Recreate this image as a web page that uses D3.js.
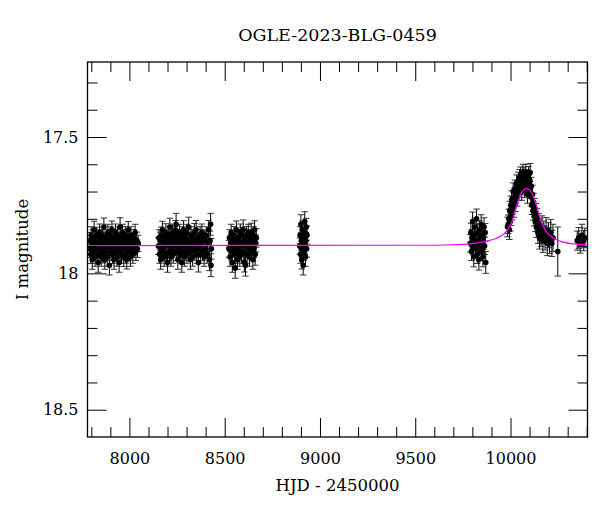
<!DOCTYPE html>
<html>
<head>
<meta charset="utf-8">
<script src="https://cdn.jsdelivr.net/npm/d3@7"></script>
<style>
  html, body { margin: 0; padding: 0; background: #fff; }
  svg { display: block; }
  text { font-family: "DejaVu Serif", "Liberation Serif", serif; fill: #000; }
</style>
</head>
<body>
<script>
// ---------- data ----------
const title = "OGLE-2023-BLG-0459";
const xLabel = "HJD - 2450000";
const yLabel = "I magnitude";

const xMajorTicks = [8000, 8500, 9000, 9500, 10000];
const xMinorTicks = [7800, 7900, 8100, 8200, 8300, 8400, 8600, 8700, 8800, 8900, 9100, 9200, 9300, 9400, 9600, 9700, 9800, 9900, 10100, 10200, 10300, 10400];
const yMajorTicks = [17.5, 18, 18.5];
const yMinorTicks = [17.3, 17.4, 17.6, 17.7, 17.8, 17.9, 18.1, 18.2, 18.3, 18.4];

// [HJD-2450000, I mag, error]
const season1 = [
[7791,17.91,.032],[7794,17.88,.030],[7797,17.93,.034],[7799,17.86,.031],[7802,17.90,.030],[7805,17.95,.035],
[7807,17.87,.029],[7810,17.92,.033],[7812,17.89,.030],[7815,17.84,.031],[7818,17.91,.032],[7820,17.94,.034],
[7823,17.88,.030],[7826,17.90,.031],[7828,17.86,.029],[7831,17.93,.033],[7834,17.89,.030],[7836,17.96,.036],
[7839,17.87,.030],[7842,17.91,.032],[7844,17.85,.031],[7847,17.92,.033],[7850,17.88,.030],[7852,17.94,.034],
[7855,17.90,.031],[7858,17.86,.030],[7860,17.93,.032],[7863,17.89,.030],[7866,17.83,.033],[7868,17.91,.031],
[7871,17.95,.035],[7874,17.88,.030],[7876,17.92,.032],[7879,17.87,.030],[7882,17.90,.031],[7884,17.94,.034],
[7887,17.85,.030],[7890,17.91,.032],[7892,17.88,.031],[7895,17.97,.036],[7898,17.89,.030],[7900,17.86,.031],
[7903,17.92,.033],[7906,17.90,.030],[7908,17.84,.032],[7911,17.93,.034],[7914,17.88,.030],[7916,17.91,.031],
[7919,17.95,.035],[7922,17.87,.030],[7924,17.90,.032],[7927,17.85,.031],[7930,17.92,.033],[7932,17.89,.030],
[7935,17.94,.034],[7938,17.86,.030],[7940,17.91,.032],[7943,17.88,.031],[7946,17.96,.036],[7948,17.90,.030],
[7951,17.83,.034],[7954,17.92,.032],[7956,17.87,.030],[7959,17.93,.033],[7962,17.89,.031],[7964,17.85,.030],
[7967,17.91,.032],[7970,17.94,.035],[7972,17.88,.030],[7975,17.90,.031],[7978,17.86,.032],[7980,17.93,.033],
[7983,17.89,.030],[7986,17.95,.034],[7988,17.87,.031],[7991,17.91,.032],[7994,17.84,.030],[7996,17.92,.033],
[7999,17.88,.031],[8002,17.90,.030],[8005,17.94,.034],[8008,17.86,.031],[8011,17.91,.032],[8014,17.89,.030],
[8018,17.93,.033],[8022,17.87,.031],[8026,17.90,.032],[8030,17.85,.030],[8034,17.92,.033],[8038,17.88,.031],
[8042,17.91,.032],[8046,17.89,.030]
];
const season2 = [
[8152,17.90,.031],[8155,17.87,.030],[8158,17.93,.033],[8161,17.88,.031],[8164,17.95,.035],[8167,17.86,.030],
[8170,17.91,.032],[8173,17.84,.031],[8176,17.92,.033],[8179,17.89,.030],[8182,17.94,.034],[8185,17.87,.030],
[8188,17.90,.031],[8191,17.85,.032],[8194,17.93,.033],[8197,17.88,.030],[8200,17.96,.036],[8203,17.89,.031],
[8206,17.86,.030],[8209,17.92,.033],[8212,17.83,.032],[8215,17.90,.031],[8218,17.94,.034],[8221,17.87,.030],
[8224,17.91,.032],[8227,17.85,.031],[8230,17.93,.033],[8233,17.88,.030],[8236,17.90,.031],[8239,17.86,.032],
[8242,17.84,.034],[8245,17.82,.040],[8248,17.92,.033],[8251,17.89,.030],[8254,17.95,.035],[8257,17.87,.031],
[8260,17.91,.032],[8263,17.85,.030],[8266,17.93,.033],[8269,17.88,.031],[8272,17.90,.030],[8275,17.96,.036],
[8278,17.86,.031],[8281,17.92,.032],[8284,17.84,.033],[8287,17.89,.030],[8290,17.94,.034],[8293,17.87,.031],
[8296,17.91,.032],[8299,17.85,.030],[8302,17.93,.033],[8305,17.88,.031],[8308,17.90,.032],[8311,17.83,.036],
[8314,17.92,.033],[8317,17.89,.030],[8320,17.95,.035],[8323,17.86,.031],[8326,17.91,.032],[8329,17.87,.030],
[8332,17.94,.034],[8335,17.88,.031],[8338,17.90,.030],[8341,17.85,.033],[8344,17.92,.032],[8347,17.89,.030],
[8350,17.84,.034],[8353,17.93,.033],[8356,17.87,.031],[8359,17.91,.032],[8362,17.96,.035],[8365,17.88,.030],
[8368,17.90,.031],[8371,17.86,.032],[8374,17.93,.033],[8377,17.89,.030],[8380,17.85,.031],[8384,17.92,.033],
[8388,17.88,.031],[8392,17.94,.034],[8396,17.87,.030],[8400,17.91,.032],[8404,17.86,.031],[8408,17.93,.033],
[8412,17.89,.030],[8416,17.84,.034],[8420,17.95,.040],[8423,17.88,.035],[8426,17.82,.040],[8428,17.97,.042],
[8430,17.91,.038]
];
const season3 = [
[8522,17.91,.031],[8525,17.87,.030],[8528,17.94,.034],[8531,17.89,.031],[8534,17.85,.030],[8537,17.92,.033],
[8540,17.96,.036],[8543,17.88,.031],[8546,17.90,.030],[8549,17.86,.032],[8552,17.93,.033],[8555,17.98,.038],
[8558,17.89,.031],[8561,17.84,.032],[8564,17.91,.030],[8567,17.95,.035],[8570,17.87,.031],[8573,17.92,.032],
[8576,17.88,.030],[8579,17.94,.034],[8582,17.85,.031],[8585,17.90,.032],[8588,17.93,.033],[8591,17.86,.030],
[8594,17.89,.031],[8597,17.84,.036],[8600,17.92,.032],[8603,17.96,.035],[8606,17.88,.031],[8609,17.97,.040],
[8612,17.90,.030],[8615,17.86,.032],[8618,17.93,.033],[8621,17.89,.031],[8624,17.85,.030],[8627,17.91,.032],
[8630,17.94,.034],[8633,17.87,.031],[8636,17.90,.030],[8639,17.85,.034],[8642,17.92,.032],[8645,17.88,.031],
[8648,17.95,.035],[8651,17.86,.031],[8654,17.91,.032],[8657,17.84,.033],[8660,17.93,.040],[8663,17.89,.031],
[8666,17.87,.034]
];
const season4 = [
[8894,17.90,.030],[8896,17.86,.031],[8898,17.93,.033],[8900,17.82,.035],[8902,17.88,.030],[8904,17.95,.034],
[8906,17.91,.031],[8908,17.84,.032],[8910,17.89,.030],[8912,17.97,.036],[8914,17.87,.031],[8916,17.92,.032],
[8918,17.85,.030],[8920,17.81,.036],[8922,17.90,.031],[8924,17.94,.034],[8926,17.88,.030],[8928,17.83,.032],
[8930,17.91,.031],[8932,17.86,.033]
];
const season5 = [
[9789,17.89,.032],[9792,17.85,.034],[9795,17.92,.033],[9798,17.87,.031],[9801,17.81,.035],[9804,17.90,.032],
[9807,17.94,.036],[9810,17.86,.031],[9813,17.83,.034],[9816,17.91,.032],[9819,17.88,.031],[9822,17.80,.036],
[9825,17.93,.034],[9828,17.85,.032],[9831,17.89,.031],[9834,17.95,.038],[9837,17.84,.033],[9840,17.90,.032],
[9843,17.87,.031],[9846,17.82,.035],[9849,17.92,.033],[9852,17.86,.031],[9855,17.94,.036],[9858,17.88,.032],
[9861,17.83,.034],[9864,17.90,.031],[9867,17.85,.033],[9870,17.96,.040]
];
const season6 = [
[9984,17.83,.036],[9988,17.82,.034],[9991,17.80,.035],[9994,17.84,.036],[9996,17.77,.034],[9999,17.81,.035],
[10001,17.75,.033],[10004,17.79,.034],[10006,17.73,.033],[10009,17.77,.034],[10012,17.75,.033],[10014,17.70,.032],
[10017,17.76,.034],[10020,17.72,.032],[10023,17.69,.032],[10026,17.74,.033],[10029,17.71,.032],[10032,17.67,.031],
[10035,17.72,.033],[10038,17.69,.031],[10041,17.66,.031],[10044,17.70,.032],[10047,17.65,.031],[10050,17.68,.032],
[10053,17.64,.030],[10056,17.67,.031],[10059,17.70,.032],[10062,17.65,.031],[10065,17.63,.030],[10068,17.67,.031],
[10071,17.64,.030],[10074,17.69,.032],[10077,17.66,.031],[10080,17.63,.030],[10083,17.68,.032],[10086,17.65,.031],
[10089,17.71,.033],[10092,17.67,.031],[10095,17.64,.032],[10098,17.69,.032],[10101,17.66,.031],[10103,17.63,.033],
[10106,17.72,.033],[10109,17.68,.032],[10112,17.75,.034],[10115,17.71,.033],[10118,17.77,.035],[10121,17.74,.034],
[10124,17.79,.036],[10127,17.76,.035],[10130,17.81,.037],[10133,17.78,.036],[10136,17.83,.038],[10140,17.80,.037],
[10144,17.85,.040],[10148,17.82,.039],[10152,17.87,.041],[10156,17.84,.040],[10160,17.86,.042],[10165,17.83,.041],
[10170,17.88,.043],[10175,17.85,.042],[10181,17.87,.044],[10187,17.84,.045],[10193,17.89,.045],[10199,17.86,.046],
[10205,17.88,.047],[10211,17.85,.048],[10217,17.89,.048],[10223,17.87,.050],[10248,17.92,.09]
];
const season7 = [
[10350,17.88,.035],[10358,17.87,.038],[10366,17.89,.036],[10375,17.86,.040],[10384,17.88,.037],[10390,17.87,.036]
];

// microlensing model curve
const modelCurve = [
[7780,17.898],[9500,17.897],[9700,17.895],[9800,17.891],[9870,17.883],[9930,17.870],[9980,17.845],
[10010,17.805],[10035,17.745],[10055,17.708],[10070,17.693],[10083,17.689],[10097,17.693],[10112,17.706],
[10130,17.738],[10155,17.795],[10180,17.838],[10215,17.866],[10260,17.882],[10320,17.891],[10404,17.895]
];

// ---------- drawing ----------
const W = 600, H = 512;
const L = 87.5, R = 587.5, T = 62, B = 437;

const svg = d3.select("body").append("svg").attr("width", W).attr("height", H);

const x = d3.scaleLinear().domain([7780, 10404]).range([L, R]);
const y = d3.scaleLinear().domain([17.225, 18.60]).range([T, B]);

const allPoints = [].concat(season1, season2, season3, season4, season5, season6, season7);

svg.append("clipPath").attr("id", "plotclip")
  .append("rect").attr("x", L).attr("y", T).attr("width", R - L).attr("height", B - T);

const plot = svg.append("g").attr("clip-path", "url(#plotclip)");

// error bars
const eb = plot.append("g").attr("stroke", "#000").attr("stroke-width", 1).attr("fill", "none");
const capW = 3.2;
allPoints.forEach(d => {
  const cx = x(d[0]), y1 = y(d[1] - d[2]), y2 = y(d[1] + d[2]);
  eb.append("line").attr("x1", cx).attr("x2", cx).attr("y1", y1).attr("y2", y2);
  eb.append("line").attr("x1", cx - capW).attr("x2", cx + capW).attr("y1", y1).attr("y2", y1).attr("stroke", "#333");
  eb.append("line").attr("x1", cx - capW).attr("x2", cx + capW).attr("y1", y2).attr("y2", y2).attr("stroke", "#333");
});

// points
plot.append("g").selectAll("circle").data(allPoints).join("circle")
  .attr("cx", d => x(d[0])).attr("cy", d => y(d[1])).attr("r", 2.8).attr("fill", "#000");

// model
plot.append("path").datum(modelCurve)
  .attr("fill", "none").attr("stroke", "#ff00ff").attr("stroke-width", 1.2)
  .attr("d", d3.line().x(d => x(d[0])).y(d => y(d[1])).curve(d3.curveMonotoneX));

// axes with inward ticks
function styleAxis(g) {
  g.select(".domain").remove();
  g.selectAll(".tick line").attr("stroke", "#000").attr("stroke-width", 1);
  g.selectAll("text").style("font-family", "'DejaVu Serif', serif").style("font-size", "16px").attr("fill", "#000");
}
const fmtX = d3.format("d");
const fmtY = d => (d === 18 ? "18" : d3.format(".1f")(d));

svg.append("g").attr("transform", `translate(0,${B})`)
  .call(d3.axisBottom(x).tickValues(xMajorTicks).tickSize(-19).tickSizeOuter(0).tickPadding(16).tickFormat(fmtX))
  .call(styleAxis);
svg.append("g").attr("transform", `translate(0,${B})`)
  .call(d3.axisBottom(x).tickValues(xMinorTicks).tickSize(-10).tickSizeOuter(0).tickFormat(""))
  .call(styleAxis);
svg.append("g").attr("transform", `translate(0,${T})`)
  .call(d3.axisTop(x).tickValues(xMajorTicks).tickSize(-19).tickSizeOuter(0).tickFormat(""))
  .call(styleAxis);
svg.append("g").attr("transform", `translate(0,${T})`)
  .call(d3.axisTop(x).tickValues(xMinorTicks).tickSize(-10).tickSizeOuter(0).tickFormat(""))
  .call(styleAxis);

svg.append("g").attr("transform", `translate(${L},0)`)
  .call(d3.axisLeft(y).tickValues(yMajorTicks).tickSize(-19).tickSizeOuter(0).tickPadding(9).tickFormat(fmtY))
  .call(styleAxis);
svg.append("g").attr("transform", `translate(${L},0)`)
  .call(d3.axisLeft(y).tickValues(yMinorTicks).tickSize(-10).tickSizeOuter(0).tickFormat(""))
  .call(styleAxis);
svg.append("g").attr("transform", `translate(${R},0)`)
  .call(d3.axisRight(y).tickValues(yMajorTicks).tickSize(-19).tickSizeOuter(0).tickFormat(""))
  .call(styleAxis);
svg.append("g").attr("transform", `translate(${R},0)`)
  .call(d3.axisRight(y).tickValues(yMinorTicks).tickSize(-10).tickSizeOuter(0).tickFormat(""))
  .call(styleAxis);

// frame
svg.append("rect").attr("x", L).attr("y", T).attr("width", R - L).attr("height", B - T)
  .attr("fill", "none").attr("stroke", "#000").attr("stroke-width", 1.3);

// titles
svg.append("text").attr("x", (L + R) / 2).attr("y", 41).attr("text-anchor", "middle")
  .style("font-size", "17.5px").text(title);
svg.append("text").attr("x", (L + R) / 2).attr("y", 491).attr("text-anchor", "middle")
  .style("font-size", "16.5px").text(xLabel);
svg.append("text").attr("transform", `translate(28,${(T + B) / 2}) rotate(-90)`).attr("text-anchor", "middle")
  .style("font-size", "16.5px").text(yLabel);
</script>
</body>
</html>
